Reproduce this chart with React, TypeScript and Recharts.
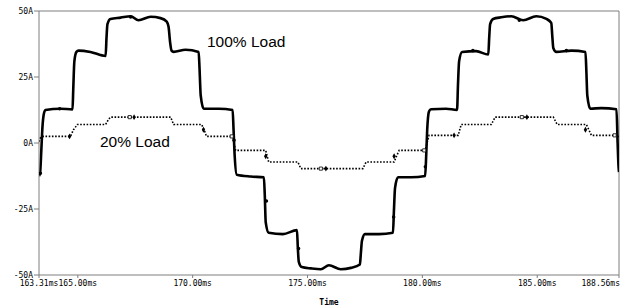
import { ComposedChart, Line, Scatter, XAxis, YAxis, ZAxis, ReferenceLine } from 'recharts';

// 100% load current (ms, A)
const load100Time = [
    163.31, 163.36, 163.41, 163.46, 163.52, 163.59, 164.24, 164.77, 164.8, 164.85, 164.94, 165.03, 165.55, 166.21,
    166.25, 166.29, 166.42, 166.86, 167.3, 167.64, 168.17, 168.6, 168.87, 168.95, 169.02, 169.08, 169.17, 169.69,
    170.26, 170.3, 170.35, 170.48, 171.13, 171.74, 171.78, 171.83, 171.92, 172.53, 173.1, 173.14, 173.18, 173.31,
    173.93, 174.54, 174.58, 174.62, 174.75, 175.15, 175.58, 175.93, 176.45, 176.89, 177.28, 177.32, 177.37, 177.5,
    178.11, 178.72, 178.76, 178.81, 178.94, 179.51, 180.12, 180.17, 180.21, 180.29, 180.38, 181.03, 181.51, 181.55,
    181.6, 181.73, 182.34, 182.87, 182.91, 182.95, 183.08, 183.43, 183.87, 184.39, 184.96, 185.4, 185.61, 185.66,
    185.7, 185.83, 186.49, 187.1, 187.14, 187.18, 187.31, 187.79, 188.45, 188.5, 188.54, 188.56,
];
const load100Amps = [
    -12.5, -11, -3, 6, 11, 12.5, 13, 12.7, 20, 31, 34.5, 35, 34.5, 33,
    40, 45, 47, 47.5, 48, 46.5, 47.8, 47.3, 46, 44, 38, 35, 34.5, 35.3,
    34.5, 28, 18, 13, 13, 12.5, 5, -5, -12, -12.7, -13, -20, -30, -34,
    -34.5, -33, -40, -45, -47, -47.5, -47.8, -46.3, -47.8, -47.3, -46, -42, -37, -34.5,
    -34.5, -34, -26, -17, -13, -13, -12.5, -4, 5, 12, 12.8, 13, 12.5, 22,
    31, 34.5, 34.8, 33.5, 40, 45, 47, 47.6, 48, 46.5, 48, 47, 45.5, 40,
    36, 34.5, 35, 34.5, 27, 18, 13, 13.2, 12.8, 0, -9, -11,
];

// 20% load current (ms, A)
const load20Time = [
    163.31, 163.37, 163.5, 164.68, 164.81, 164.98, 166.21, 166.34, 166.42, 169.04, 169.17, 170.39, 170.52, 170.6,
    171.74, 171.87, 173.18, 173.31, 174.58, 174.71, 177.41, 177.55, 178.77, 178.9, 178.99, 180.12, 180.29, 181.56,
    181.69, 183.0, 183.17, 185.7, 185.87, 187.14, 187.36, 188.41, 188.56,
];
const load20Amps = [
    0.5, 2, 2.5, 2.5, 5, 7, 7, 9, 9.8, 9.8, 7, 7, 4.5, 2.5,
    2.5, -2.8, -2.8, -7.2, -7.2, -9.7, -9.7, -7.2, -7.2, -4.5, -2.8, -2.8, 2.9, 2.9,
    7, 7, 9.8, 9.8, 7, 7, 2.9, 2.9, 2.5,
];

// probe markers
const dot100Time = [163.37, 164.21, 167.3, 171.8, 173.21, 174.61, 178.75, 180.13, 182.2, 184.22, 186.27];
const dot100Amps = [-11.5, 13, 47.7, 1, -22, -40, -28, -9, 35, 46.5, 35];
const square20Time = [167.26, 171.7, 175.58, 180.08, 184.33, 188.37];
const square20Amps = [9.8, 2.5, -9.7, -2.8, 9.8, 2.9];
const diamond20Time = [164.64, 167.45, 170.47, 173.18, 175.8, 178.77, 181.38, 184.55, 187.1];
const diamond20Amps = [2.5, 9.8, 5, -5, -9.7, -5, 2.9, 9.8, 5];

const xTicks = [163.31, 165, 170, 175, 180, 185, 188.56];
const yTicks = [-50, -25, 0, 25, 50];

const zip = (t: number[], v: number[]) => t.map((x, i) => ({ t: x, v: v[i] }));

const load100 = zip(load100Time, load100Amps);
const load20 = zip(load20Time, load20Amps);
const dots100 = zip(dot100Time, dot100Amps);
const squares20 = zip(square20Time, square20Amps);
const diamonds20 = zip(diamond20Time, diamond20Amps);

const AXIS = '#7f7f7f';
const MONO = '"DejaVu Sans Mono", monospace';

function TimeTick(props: any) {
    const { x, y, payload, index } = props;
    const last = index === xTicks.length - 1;
    return (
        <text
            x={last ? x + 1 : x}
            y={y}
            dy="0.71em"
            textAnchor={last ? 'end' : 'middle'}
            fontFamily={MONO}
            fontSize={8}
            fill="#000"
        >
            {payload.value.toFixed(2)}ms
        </text>
    );
}

export default function App() {
    return (
        <div style={{ position: 'absolute', left: 0, top: 0, width: 623, height: 307, background: '#fff' }}>
            <ComposedChart width={623} height={307} margin={{ top: 11, right: 4, left: 0, bottom: 0 }}>
                <XAxis
                    dataKey="t"
                    type="number"
                    domain={[163.31, 188.56]}
                    ticks={xTicks}
                    interval={0}
                    allowDataOverflow
                    height={32}
                    stroke={AXIS}
                    tickSize={3}
                    tickMargin={2}
                    tick={<TimeTick />}
                    label={{ value: 'Time', position: 'insideBottom', offset: 2, fontFamily: MONO, fontSize: 8, fontWeight: 'bold', fill: '#000' }}
                />
                <YAxis
                    dataKey="v"
                    type="number"
                    domain={[-50, 50]}
                    ticks={yTicks}
                    interval={0}
                    width={39}
                    stroke={AXIS}
                    tickSize={5}
                    tickMargin={1}
                    tick={{ fontFamily: MONO, fontSize: 8, fill: '#000' }}
                    tickFormatter={(v: number) => `${v}A`}
                />
                <ZAxis type="number" range={[10, 10]} />
                <ReferenceLine y={50} stroke={AXIS} />
                <ReferenceLine x={188.56} stroke={AXIS} />

                <Line data={load20} dataKey="v" type="linear" stroke="#000" strokeWidth={1.6} strokeDasharray="1.6 1.6" dot={false} isAnimationActive={false} />
                <Line data={load100} dataKey="v" type="monotone" stroke="#000" strokeWidth={2.6} dot={false} isAnimationActive={false} />

                <Scatter data={dots100} dataKey="v" shape="circle" fill="#000" isAnimationActive={false} />
                <Scatter data={squares20} dataKey="v" shape="square" fill="#fff" stroke="#000" strokeWidth={0.8} isAnimationActive={false} />
                <Scatter data={diamonds20} dataKey="v" shape="diamond" fill="#000" isAnimationActive={false} />
            </ComposedChart>
            <div style={{ position: 'absolute', left: 207, top: 34, fontFamily: '"Liberation Sans", Arial, sans-serif', fontSize: 15.5, lineHeight: 1, color: '#000' }}>
                100% Load
            </div>
            <div style={{ position: 'absolute', left: 100, top: 134, fontFamily: '"Liberation Sans", Arial, sans-serif', fontSize: 15.5, lineHeight: 1, color: '#000' }}>
                20% Load
            </div>
        </div>
    );
}
